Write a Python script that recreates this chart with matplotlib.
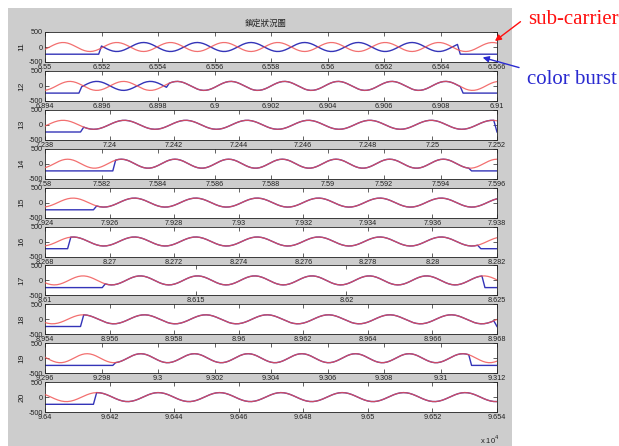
import numpy as np
import matplotlib
matplotlib.use("Agg")
import matplotlib.pyplot as plt
from matplotlib.patches import Rectangle

# ---------------- data ----------------
line_ids = ["11", "12", "13", "14", "15", "16", "17", "18", "19", "20"]
# x axis limits of each panel (units of 1e4 samples)
x_start = [6.550, 6.894, 7.238, 7.580, 7.924, 8.268, 8.610, 8.954, 9.296, 9.640]
x_end = [6.566, 6.910, 7.252, 7.596, 7.938, 8.282, 8.625, 8.968, 9.312, 9.654]
xtick_labels = [
    ["6.55", "6.552", "6.554", "6.556", "6.558", "6.56", "6.562", "6.564", "6.566"],
    ["6.894", "6.896", "6.898", "6.9", "6.902", "6.904", "6.906", "6.908", "6.91"],
    ["7.238", "7.24", "7.242", "7.244", "7.246", "7.248", "7.25", "7.252"],
    ["7.58", "7.582", "7.584", "7.586", "7.588", "7.59", "7.592", "7.594", "7.596"],
    ["7.924", "7.926", "7.928", "7.93", "7.932", "7.934", "7.936", "7.938"],
    ["8.268", "8.27", "8.272", "8.274", "8.276", "8.278", "8.28", "8.282"],
    ["8.61", "8.615", "8.62", "8.625"],
    ["8.954", "8.956", "8.958", "8.96", "8.962", "8.964", "8.966", "8.968"],
    ["9.296", "9.298", "9.3", "9.302", "9.304", "9.306", "9.308", "9.31", "9.312"],
    ["9.64", "9.642", "9.644", "9.646", "9.648", "9.65", "9.652", "9.654"],
]
ytick_values = [-500, 0, 500]
ytick_labels = ["-500", "0", "500"]

# sub-carrier (red): period in samples, amplitude, first peak position (1e4 units)
carrier_period = 19.0
carrier_amp = 150.0
red_peak = [6.55064, 6.89488, 7.23856, 7.58080, 7.92487, 8.26887, 8.61126, 8.95518, 9.29749, 9.64161]
# color burst (blue): flat level outside the burst, burst on/off, lock point
burst_level = -240.0
burst_on = [6.5520, 6.8953, 7.2392, 7.5825, 7.9256, 8.2688, 8.6120, 8.9552, 9.2984, 9.6416]
burst_off = [6.5646, 6.9087, 7.2519, 7.5950, None, 8.2814, 8.6246, 8.9679, 9.3110, None]
burst_lock = [None, 6.8984, 7.2392, 7.5825, 7.9256, 8.2688, 8.6120, 8.9552, 9.2984, 9.6416]

title_text = "鎖定狀況圖"
label_carrier = "sub-carrier"
label_burst = "color burst"

# ---------------- figure ----------------
W, H = 619, 446
fig = plt.figure(figsize=(W / 100, H / 100), dpi=100)
fig.patch.set_facecolor("white")
fig.patches.append(Rectangle((8 / W, 0), (512 - 8) / W, (H - 8) / H,
                             transform=fig.transFigure, facecolor="#cdcdcd",
                             edgecolor="none", zorder=-10))

red_c = "#f05050"
blue_c = "#3434b8"
tick_font = dict(family="Liberation Sans", size=5.2)

left_px, right_px = 45, 497
pitch, ax_h = 38.9, 30.0
for k in range(10):
    top_px = 32 + k * pitch
    ax = fig.add_axes([left_px / W, 1 - (top_px + ax_h) / H,
                       (right_px - left_px) / W, ax_h / H])
    ax.set_zorder(1)
    ax.set_facecolor("white")
    s0 = int(round(x_start[k] * 1e4))
    s1 = int(round(x_end[k] * 1e4))
    t = np.arange(s0, s1 + 1).astype(float)
    xs = t / 1e4
    red = carrier_amp * np.cos(2 * np.pi * (t - red_peak[k] * 1e4) / carrier_period)

    # blue: phase offset pi before lock, 0 after
    on = burst_on[k] * 1e4
    off = burst_off[k] * 1e4 if burst_off[k] is not None else np.inf
    lock = burst_lock[k] * 1e4 if burst_lock[k] is not None else np.inf
    phase_off = np.where(t < lock, np.pi, 0.0)
    blue = carrier_amp * np.cos(2 * np.pi * (t - red_peak[k] * 1e4) / carrier_period + phase_off)
    blue = np.where((t >= on) & (t <= off), blue, burst_level)

    ax.plot(xs, blue, color=blue_c, lw=1.0, zorder=2)
    ax.plot(xs, red, color=red_c, lw=0.9, alpha=0.82, zorder=3)

    ax.set_xlim(x_start[k], x_end[k])
    ax.set_ylim(-500, 500)
    ticks = [float(v) for v in xtick_labels[k]]
    ax.set_xticks(ticks)
    ax.set_xticklabels(xtick_labels[k], fontdict=tick_font)
    ax.set_yticks(ytick_values)
    ax.set_yticklabels(ytick_labels, fontdict=tick_font)
    ax.tick_params(direction="in", length=3, width=0.5, top=True, right=True,
                   pad=1.5, colors="#222222")
    for sp in ax.spines.values():
        sp.set_linewidth(0.6)
        sp.set_color("#222222")
    fig.text(22 / W, 1 - (top_px + ax_h / 2) / H, line_ids[k], rotation=90,
             ha="center", va="center", fontsize=6, family="Liberation Sans",
             color="#222222")

fig.text(266 / W, 1 - 23 / H, title_text, ha="center", va="center", fontsize=6,
         family=["Noto Sans CJK TC", "DejaVu Sans"], color="#222222")
fig.text(480 / W, 1 - 440 / H, r"x 10$^4$", ha="left", va="center", fontsize=5.5,
         family="Liberation Sans", color="#222222")

fig.text(528 / W, 1 - 19 / H, label_carrier, color="#ff1010", fontsize=15,
         family="Liberation Serif", ha="left", va="center")
fig.text(527 / W, 1 - 80 / H, label_burst, color="#2a2ad0", fontsize=15,
         family="Liberation Serif", ha="left", va="center")
fig.add_artist(plt.Annotation("", xy=(492.7, H - 42.7), xytext=(522.7, H - 20),
                              xycoords="figure pixels", textcoords="figure pixels",
                              arrowprops=dict(arrowstyle="-|>", color="#ff1010",
                                              lw=1.0, mutation_scale=9)))
fig.add_artist(plt.Annotation("", xy=(480, H - 56.7), xytext=(521.7, H - 68.3),
                              xycoords="figure pixels", textcoords="figure pixels",
                              arrowprops=dict(arrowstyle="-|>", color="#2a2ad0",
                                              lw=1.0, mutation_scale=9)))

fig.savefig("out.png", dpi=100)
